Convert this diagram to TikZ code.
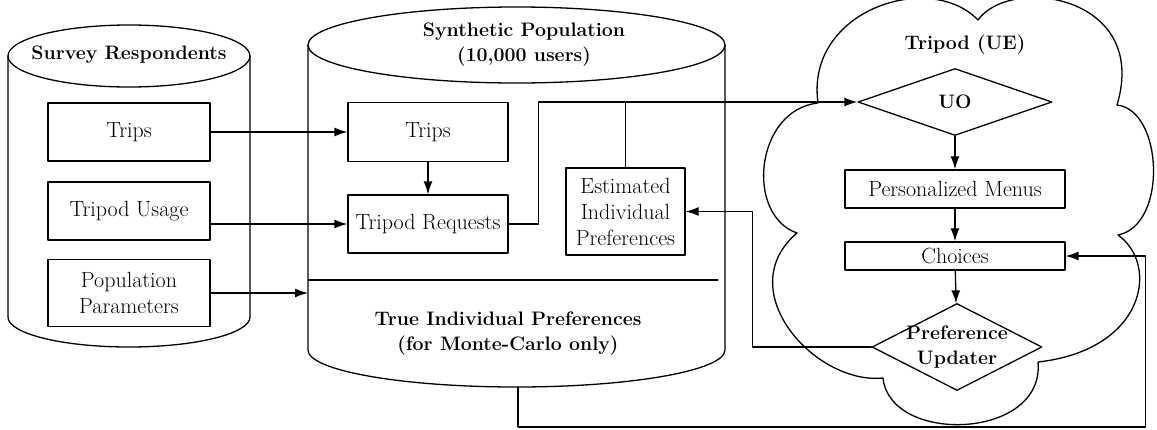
\documentclass[tikz,border=0pt]{standalone}
\usetikzlibrary{shapes.geometric,arrows.meta}

\newcommand{\boxfont}{\fontsize{22}{26}\selectfont}
\newcommand{\titlefont}{\fontsize{19.5}{25}\selectfont\bfseries}
\tikzset{
  box/.style={draw, line width=1.3pt, inner sep=0pt, align=center, font=\boxfont},
  decision/.style={draw, diamond, aspect=1, line width=1.3pt, inner sep=0pt, font=\titlefont},
  title/.style={font=\titlefont, align=center},
  link/.style={line width=1.3pt},
  arr/.style={line width=1.3pt, -{Latex[length=13pt,width=9pt]}},
}

\begin{document}
\begin{tikzpicture}[x=1pt, y=-1pt, line join=round, line cap=round]
    \useasboundingbox (0,0) rectangle (1157,429);

    % cylindre survey respondents
    \draw[link] (8,56) -- (8,317) arc[start angle=180, end angle=0, x radius=121, y radius=30] -- (250,56);
    \draw[link] (129,56) ellipse [x radius=121, y radius=31];
    \node[title] (surveyT) at (129,55) {Survey Respondents};

    \node[box, minimum width=162, minimum height=58] (sTrips) at (129,132) {Trips};
    \node[box, minimum width=162, minimum height=58] (sUsage) at (129,211) {Tripod Usage};
    \node[box, minimum width=162, minimum height=67] (sParam) at (129,293) {Population\\Parameters};

    % cylindre synthetic population
    \draw[link] (308,45) -- (308,350) arc[start angle=180, end angle=0, x radius=208.5, y radius=37] -- (725,45);
    \draw[link] (516.5,45) ellipse [x radius=208.5, y radius=38];
    \draw[link] (308,280) -- (718,280); % separation estimated / true
    \node[title] (synT) at (524,45) {Synthetic Population\\(10,000 users)};
    \node[title] (trueT) at (508,334) {True Individual Preferences\\(for Monte-Carlo only)};
    \coordinate (synL) at (308,293);
    \coordinate (synB) at (518,387);

    \node[box, minimum width=160, minimum height=59] (mTrips) at (428,132) {Trips};
    \node[box, minimum width=160, minimum height=58] (mReq) at (428,224) {Tripod Requests};
    \node[box, minimum width=119, minimum height=87] (mEst) at (625.5,211.5) {Estimated\\Individual\\Preferences};

    % nuage tripod
    \draw[link] (818,103) .. controls (805,10) and (930,-30) .. (978,20)
        .. controls (1010,-25) and (1150,-5) .. (1117,105)
        .. controls (1163,110) and (1168,225) .. (1118,235)
        .. controls (1160,265) and (1145,350) .. (1038,362)
        .. controls (1045,440) and (890,445) .. (883,378)
        .. controls (815,385) and (730,290) .. (797,233)
        .. controls (745,215) and (755,110) .. cycle;
    \node[title] (tripodT) at (965,45) {Tripod (UE)};

    \node[decision, minimum width=194, minimum height=67] (uo) at (955,102) {UO};
    \node[box, minimum width=220, minimum height=38] (menus) at (955,189) {Personalized Menus};
    \node[box, minimum width=220, minimum height=28] (choices) at (955,256) {Choices};
    \node[decision, minimum width=170, minimum height=87,
          label={[title]center:Preference\\Updater}] (pu) at (957,347) {};

    % fleches
    \draw[arr] (sTrips) -- (mTrips);
    \draw[arr] (sUsage.east |- mReq.west) -- (mReq.west);
    \draw[arr] (sParam) -- (synL);
    \draw[arr] (mTrips) -- (mReq);
    \draw[arr] (mReq.east) -- ++(30,0) |- (uo.west);
    \draw[link] (mEst.north) -- (mEst.north |- uo.west);
    \draw[arr] (uo) -- (menus);
    \draw[arr] (menus) -- (choices);
    \draw[arr] (choices) -- (pu);
    \draw[arr] (pu.west) -- ++(-119,0) |- (mEst.east);
    \draw[arr] (synB) -- ++(0,40) -| ([xshift=80pt]choices.east) -- (choices.east);
\end{tikzpicture}
\end{document}
